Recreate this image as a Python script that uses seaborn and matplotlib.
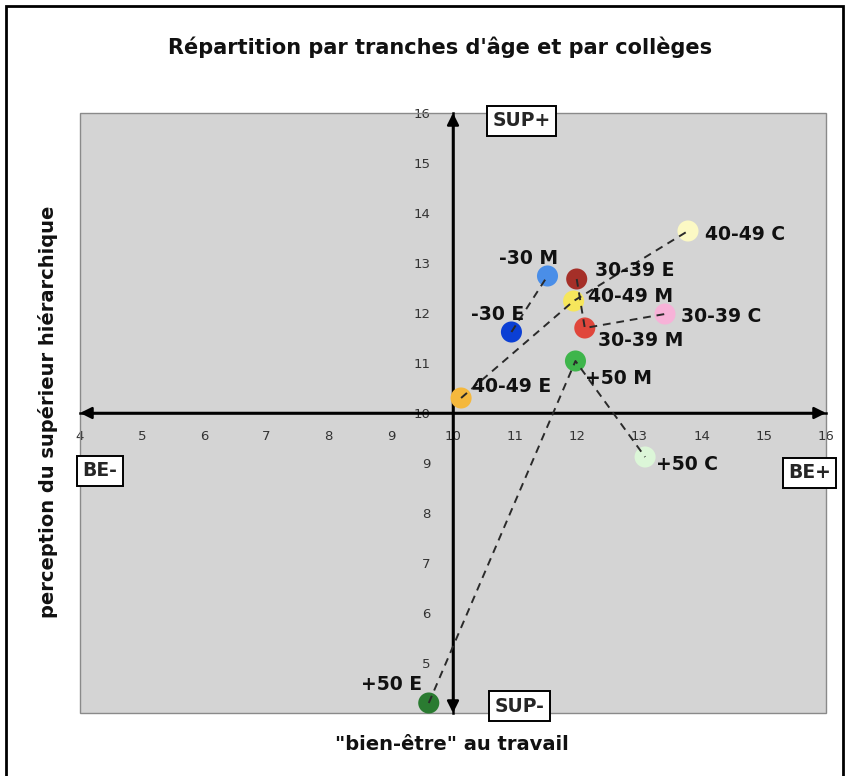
import matplotlib
matplotlib.use("Agg")
import matplotlib.pyplot as plt
from matplotlib.patches import Rectangle
import pandas as pd
import seaborn as sns

# valeurs
tranches = ["-30", "-30", "30-39", "30-39", "30-39", "40-49", "40-49", "40-49", "+50", "+50", "+50"]
colleges = ["E", "M", "E", "M", "C", "E", "M", "C", "E", "M", "C"]
bien_etre = [10.94, 11.52, 11.99, 12.12, 13.41, 10.13, 11.94, 13.78, 9.61, 11.97, 13.09]
perception = [11.62, 12.74, 12.68, 11.70, 11.98, 10.30, 12.24, 13.64, 4.20, 11.04, 9.12]
couleurs = ["#0b3fd4", "#4a8ee8", "#a52f28", "#e0463b", "#f7b2d8", "#f5b83c",
            "#f6e65c", "#fcf9c4", "#2a7b31", "#3eb54b", "#dcf6d8"]

x_ticks = list(range(4, 17))
y_ticks = list(range(5, 17))

df = pd.DataFrame({
    "tranche": tranches,
    "college": colleges,
    "bien_etre": bien_etre,
    "perception": perception,
})
df["label"] = df["tranche"] + " " + df["college"]
palette = dict(zip(df["label"], couleurs))

# décalage des étiquettes (pixels) et alignement
decalages = {
    "-30 M": (-19, 18, "center"),
    "30-39 E": (18, 9, "left"),
    "40-49 M": (14, 4, "left"),
    "-30 E": (-14, 17, "center"),
    "30-39 C": (16, -3, "left"),
    "30-39 M": (13, -12, "left"),
    "40-49 C": (17, -3, "left"),
    "40-49 E": (11, 12, "left"),
    "+50 M": (10, -17, "left"),
    "+50 C": (11, -7, "left"),
    "+50 E": (-7, 19, "right"),
}

sns.set_style("white")
plt.rcParams["font.family"] = ["DejaVu Sans"]

W, H = 851, 776
fig = plt.figure(figsize=(W / 100, H / 100), dpi=100)
ax = fig.add_axes([80 / W, 1 - 713 / H, (826 - 80) / W, (713 - 113) / H])
ax.set_facecolor("#d4d4d4")

sns.scatterplot(
    data=df, x="bien_etre", y="perception", hue="label", palette=palette,
    s=230, linewidth=0, legend=False, ax=ax, zorder=3, clip_on=False,
)
sns.lineplot(
    data=df, x="bien_etre", y="perception", units="tranche", estimator=None,
    sort=False, color="#2a2a2a", lw=1.4, linestyle=(0, (4, 3)), ax=ax, zorder=4,
)

for _, row in df.iterrows():
    dx, dy, ha = decalages[row["label"]]
    ax.annotate(
        row["label"], (row["bien_etre"], row["perception"]),
        xytext=(dx * 0.72, dy * 0.72), textcoords="offset points",
        ha=ha, va="center", fontsize=13.5, fontweight="bold", color="#111111",
        zorder=5, annotation_clip=False,
    )

ax.set_xlim(4, 16)
ax.set_ylim(4, 16)
ax.set_xticks(x_ticks)
ax.set_yticks(y_ticks)
ax.set_xlabel("")
ax.set_ylabel("")

for s in ["top", "right"]:
    ax.spines[s].set_visible(False)
for s in ["left", "bottom"]:
    ax.spines[s].set_position(("data", 10))
    ax.spines[s].set_linewidth(1.8)
    ax.spines[s].set_color("black")

ax.tick_params(axis="x", direction="inout", length=8, width=1.2, pad=8,
               labelsize=9.5, labelcolor="#333333", color="black")
ax.tick_params(axis="y", direction="out", length=4, width=1.2, pad=12,
               labelsize=9.5, labelcolor="#333333", color="black")

# flèches aux extrémités des axes
fleche = dict(arrowstyle="<|-|>,head_length=0.7,head_width=0.35", color="black",
              lw=1.8, shrinkA=0, shrinkB=0)
ax.annotate("", xy=(16, 10), xytext=(4, 10), arrowprops=fleche, annotation_clip=False, zorder=2)
ax.annotate("", xy=(10, 16), xytext=(10, 4), arrowprops=fleche, annotation_clip=False, zorder=2)

# cadre gris de la zone de traçage
ax.add_patch(Rectangle((0, 0), 1, 1, transform=ax.transAxes, fill=False,
                       ec="#8a8a8a", lw=1, clip_on=False, zorder=1))

boite = dict(boxstyle="square,pad=0.28", fc="white", ec="black", lw=1.4)
for txt, bx, by in [("SUP+", 11.1, 15.84), ("SUP-", 11.07, 4.14),
                    ("BE-", 4.32, 8.84), ("BE+", 15.73, 8.8)]:
    ax.text(bx, by, txt, ha="center", va="center", fontsize=13.5,
            fontweight="bold", bbox=boite, zorder=6, clip_on=False)

fig.text(440 / W, 1 - 47 / H, "Répartition par tranches d'âge et par collèges",
         ha="center", va="center", fontsize=15, fontweight="bold", color="#111111")
fig.text(452 / W, 1 - 745 / H, '"bien-être" au travail',
         ha="center", va="center", fontsize=14, fontweight="bold", color="#111111")
fig.text(48 / W, 1 - 412 / H, "perception du supérieur hiérarchique", rotation=90,
         ha="center", va="center", fontsize=14, fontweight="bold", color="#111111")

fig.add_artist(Rectangle((6 / W, -0.02), (843 - 6) / W, 1 - 6 / H + 0.02,
                         transform=fig.transFigure, fill=False, ec="black", lw=2))

fig.savefig("out.png", dpi=100)
